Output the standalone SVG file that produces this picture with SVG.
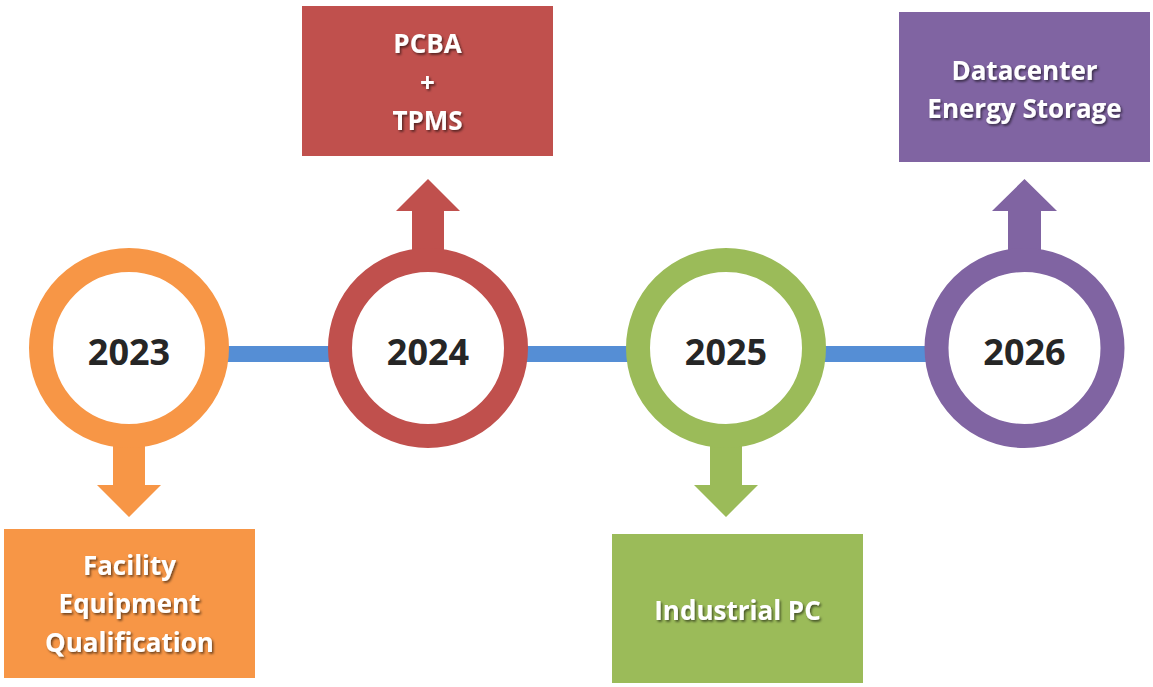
<svg xmlns="http://www.w3.org/2000/svg" width="1153" height="687" viewBox="0 0 1153 687">
  <defs>
    <filter id="tshadow" x="-10%" y="-30%" width="120%" height="160%">
      <feDropShadow dx="1.5" dy="1.8" stdDeviation="1" flood-color="#000" flood-opacity="0.55"/>
    </filter>
    <style>
      .year { font-family: "Open Sans", "Liberation Sans", sans-serif; font-weight: 700; font-size: 36px; fill: #262626; text-anchor: middle; }
      .lbl { font-family: "Open Sans", "Liberation Sans", sans-serif; font-weight: 700; font-size: 26px; fill: #ffffff; text-anchor: middle; filter: url(#tshadow); }
      .ring { fill: #ffffff; stroke-width: 24; }
      .conn { stroke: #558ED5; stroke-width: 16; fill: none; }
    </style>
  </defs>
  <rect width="1153" height="687" fill="#ffffff"/>

  <g id="connectors">
    <line class="conn" x1="220" y1="354" x2="338" y2="354"/>
    <line class="conn" x1="518" y1="354" x2="636" y2="354"/>
    <line class="conn" x1="816" y1="354" x2="935" y2="354"/>
  </g>

  <g id="node-2023">
    <polygon fill="#F79646" points="113,430 145,430 145,485 161,485 129,517 97,485 113,485"/>
    <circle class="ring" cx="129" cy="348" r="88" stroke="#F79646"/>
    <text class="year" x="129" y="365">2023</text>
    <rect x="4" y="529" width="251" height="149" fill="#F79646"/>
    <text class="lbl" x="129.5" y="575">Facility</text>
    <text class="lbl" x="129.5" y="613">Equipment</text>
    <text class="lbl" x="129.5" y="652">Qualification</text>
  </g>

  <g id="node-2024">
    <polygon fill="#C0504D" points="412,266 444,266 444,211 460,211 428,179 396,211 412,211"/>
    <circle class="ring" cx="428" cy="348" r="88" stroke="#C0504D"/>
    <text class="year" x="428" y="365">2024</text>
    <rect x="302" y="6" width="251" height="150" fill="#C0504D"/>
    <text class="lbl" x="427.5" y="53">PCBA</text>
    <text class="lbl" x="427.5" y="92">+</text>
    <text class="lbl" x="427.5" y="130">TPMS</text>
  </g>

  <g id="node-2025">
    <polygon fill="#9BBB59" points="710,430 742,430 742,485 758,485 726,517 694,485 710,485"/>
    <circle class="ring" cx="726" cy="348" r="88" stroke="#9BBB59"/>
    <text class="year" x="726" y="365">2025</text>
    <rect x="612" y="534" width="251" height="149" fill="#9BBB59"/>
    <text class="lbl" x="737.5" y="620">Industrial PC</text>
  </g>

  <g id="node-2026">
    <polygon fill="#8064A2" points="1008,266 1041,266 1041,211 1057,211 1024.5,179 992,211 1008,211"/>
    <circle class="ring" cx="1024.5" cy="348" r="88" stroke="#8064A2"/>
    <text class="year" x="1024.5" y="365">2026</text>
    <rect x="899" y="12" width="251" height="150" fill="#8064A2"/>
    <text class="lbl" x="1024.5" y="80">Datacenter</text>
    <text class="lbl" x="1024.5" y="118">Energy Storage</text>
  </g>
</svg>
